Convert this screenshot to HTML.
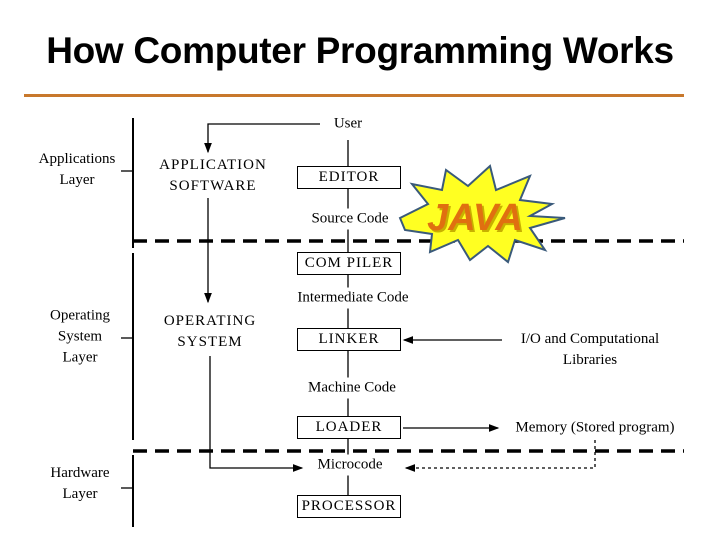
<!DOCTYPE html>
<html><head><style>
body{margin:0;width:720px;height:540px;background:#fff;overflow:hidden;position:relative}
.t{position:absolute;font-family:"Liberation Serif",serif;font-size:15px;color:#000;white-space:nowrap;transform:translate(-50%,-50%);text-align:center;line-height:21px}
.b{position:absolute;left:297px;width:102px;height:21px;border:1.5px solid #000;font-family:"Liberation Serif",serif;font-size:15px;text-align:center;line-height:21px;letter-spacing:1px;background:#fff}
</style></head><body>
<div style="position:absolute;left:0;width:720px;top:30px;text-align:center;font-family:'Liberation Sans',sans-serif;font-weight:bold;font-size:37px;letter-spacing:-0.3px;color:#000">How Computer Programming Works</div>
<div style="position:absolute;left:24px;top:94px;width:660px;height:3px;background:#c8782c"></div>
<svg width="720" height="540" style="position:absolute;left:0;top:0">
<defs><marker id="a" markerWidth="8" markerHeight="6" refX="7" refY="3" orient="auto"><path d="M0,0L8,3L0,6z"/></marker></defs>
<g stroke="#000" stroke-width="1.3" fill="none">
<line x1="133" y1="118" x2="133" y2="248" stroke-width="2"/>
<line x1="133" y1="253" x2="133" y2="440" stroke-width="2"/>
<line x1="133" y1="455" x2="133" y2="527" stroke-width="2"/>
<line x1="121" y1="171" x2="133" y2="171"/>
<line x1="121" y1="338" x2="133" y2="338"/>
<line x1="121" y1="488" x2="133" y2="488"/>
<line x1="133" y1="241" x2="684" y2="241" stroke-width="3.5" stroke-dasharray="14 8"/>
<line x1="133" y1="451" x2="684" y2="451" stroke-width="3.5" stroke-dasharray="14 8"/>
<polyline points="320,124 208,124 208,152" marker-end="url(#a)"/>
<line x1="348" y1="140" x2="348" y2="500"/>
<line x1="208" y1="198" x2="208" y2="302" marker-end="url(#a)"/>
<polyline points="210,356 210,468 302,468" marker-end="url(#a)"/>
<line x1="502" y1="340" x2="404" y2="340" marker-end="url(#a)"/>
<line x1="403" y1="428" x2="498" y2="428" marker-end="url(#a)"/>
<polyline points="595,440 595,468 406,468" stroke-dasharray="3 3" marker-end="url(#a)"/>
</g>
<polygon points="400,218 428,204 412,184 442,190 446,170 468,186 490,166 496,190 530,176 520,200 552,204 530,216 565,218 530,228 545,250 515,240 508,262 488,246 470,260 458,240 430,252 432,234 405,230" fill="#ffff22" stroke="#3a5a7a" stroke-width="2"/>
<text x="477" y="232" text-anchor="middle" font-family="Liberation Sans,sans-serif" font-weight="bold" font-style="italic" font-size="38" fill="#c8b000">JAVA</text>
<text x="475" y="230" text-anchor="middle" font-family="Liberation Sans,sans-serif" font-weight="bold" font-style="italic" font-size="38" fill="#e07010">JAVA</text>
</svg>
<div class="t" style="left:348px;top:124px;background:#fff;padding:0 4px">User</div>
<div class="t" style="left:77px;top:170px">Applications<br>Layer</div>
<div class="t" style="left:80px;top:337px">Operating<br>System<br>Layer</div>
<div class="t" style="left:80px;top:484px">Hardware<br>Layer</div>
<div class="t" style="left:213px;top:176px;letter-spacing:1px">APPLICATION<br>SOFTWARE</div>
<div class="t" style="left:210px;top:332px;letter-spacing:1px">OPERATING<br>SYSTEM</div>
<div class="b" style="top:166px">EDITOR</div>
<div class="t" style="left:350px;top:219px;background:#fff">Source Code</div>
<div class="b" style="top:252px">COM PILER</div>
<div class="t" style="left:353px;top:298px;background:#fff">Intermediate Code</div>
<div class="b" style="top:328px">LINKER</div>
<div class="t" style="left:352px;top:388px;background:#fff">Machine Code</div>
<div class="b" style="top:416px">LOADER</div>
<div class="t" style="left:350px;top:465px;background:#fff">Microcode</div>
<div class="b" style="top:495px">PROCESSOR</div>
<div class="t" style="left:590px;top:350px">I/O and Computational<br>Libraries</div>
<div class="t" style="left:595px;top:428px">Memory (Stored program)</div>
</body></html>
